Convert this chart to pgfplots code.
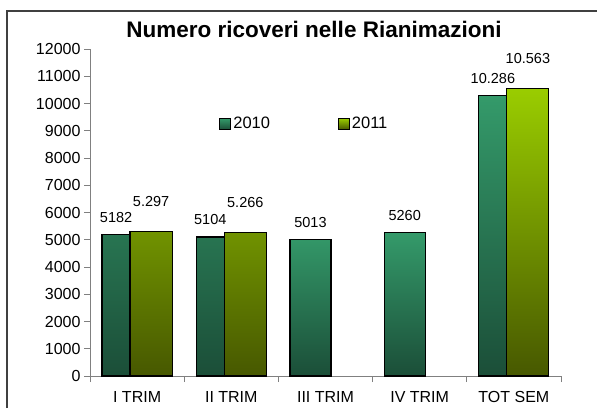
\documentclass[border=0pt]{standalone}
\usepackage{fontspec}
\setmainfont{Liberation Sans}
\usepackage{pgfplots}
\pgfplotsset{compat=1.18}
\definecolor{ga}{HTML}{349A6A}
\definecolor{gb}{HTML}{1B4E38}
\definecolor{la}{HTML}{9ACD00}
\definecolor{lb}{HTML}{475800}
\begin{document}
\begin{tikzpicture}[x=1pt,y=1pt]
\useasboundingbox (0,0) rectangle (597,408);
\draw[line width=1.8pt, color=black!75] (7,0) -- (7,397) -- (597,397);
\node[font=\bfseries\fontsize{22.5}{26}\selectfont] at (314,379) {Numero ricoveri nelle Rianimazioni};
\begin{axis}[
  at={(90pt,32pt)}, anchor=south west,
  width=471pt, height=327pt, scale only axis,
  xmin=-0.5, xmax=4.5, ymin=0, ymax=12000,
  axis x line*=bottom, axis y line*=left,
  axis line style={color=gray, line width=0.8pt},
  xtick={-0.5,0.5,...,4.5}, x tick label as interval,
  xticklabels={I TRIM, II TRIM, III TRIM, IV TRIM, TOT SEM},
  xticklabel style={yshift=-6pt},
  ytick={0,1000,...,12000},
  tick align=outside, major tick length=6pt,
  tick style={color=gray, line width=0.8pt},
  ticklabel style={font=\fontsize{16}{19}\selectfont, text=black},
  scaled y ticks=false,
  yticklabel style={/pgf/number format/.cd, fixed, 1000 sep={}},
  /pgf/number format/assume math mode=true,
  legend columns=2,
  legend style={at={(0.268,0.771)}, anchor=west, draw=none, fill=none,
    font=\fontsize{16.5}{19}\selectfont,
    /tikz/every even column/.append style={column sep=66pt}},
]
\addplot[ybar, bar width=28pt, bar shift=-21pt, draw=black, line width=1.2pt,
  top color=ga, bottom color=gb,
  point meta=explicit symbolic, nodes near coords,
  every node near coord/.append style={text=black, anchor=center, xshift=-21pt, yshift=17pt, font=\fontsize{14.5}{16}\selectfont},
  legend image code/.code={\draw[draw=black, line width=0.9pt, top color=ga, bottom color=gb] (0pt,-5.5pt) rectangle (11pt,5.5pt);}]
  coordinates {(0,5182)[5182] (1,5104)[5104] (4,10286)[10.286]};
\addlegendentry{2010}
\addplot[ybar, bar width=41pt, bar shift=-15pt, draw=black, line width=1.2pt,
  top color=ga, bottom color=gb, forget plot,
  point meta=explicit symbolic, nodes near coords,
  every node near coord/.append style={text=black, anchor=center, xshift=-15pt, yshift=17pt, font=\fontsize{14.5}{16}\selectfont}]
  coordinates {(2,5013)[5013] (3,5260)[5260]};
\addplot[ybar, bar width=42pt, bar shift=14pt, draw=black, line width=1.2pt,
  top color=la, bottom color=lb,
  point meta=explicit symbolic, nodes near coords,
  every node near coord/.append style={text=black, anchor=center, xshift=14pt, yshift=30pt, font=\fontsize{14.5}{16}\selectfont},
  legend image code/.code={\draw[draw=black, line width=0.9pt, top color=la, bottom color=lb] (0pt,-5.5pt) rectangle (11pt,5.5pt);}]
  coordinates {(0,5297)[5.297] (1,5266)[5.266] (4,10563)[10.563]};
\addlegendentry{2011}
\end{axis}
\end{tikzpicture}
\end{document}
